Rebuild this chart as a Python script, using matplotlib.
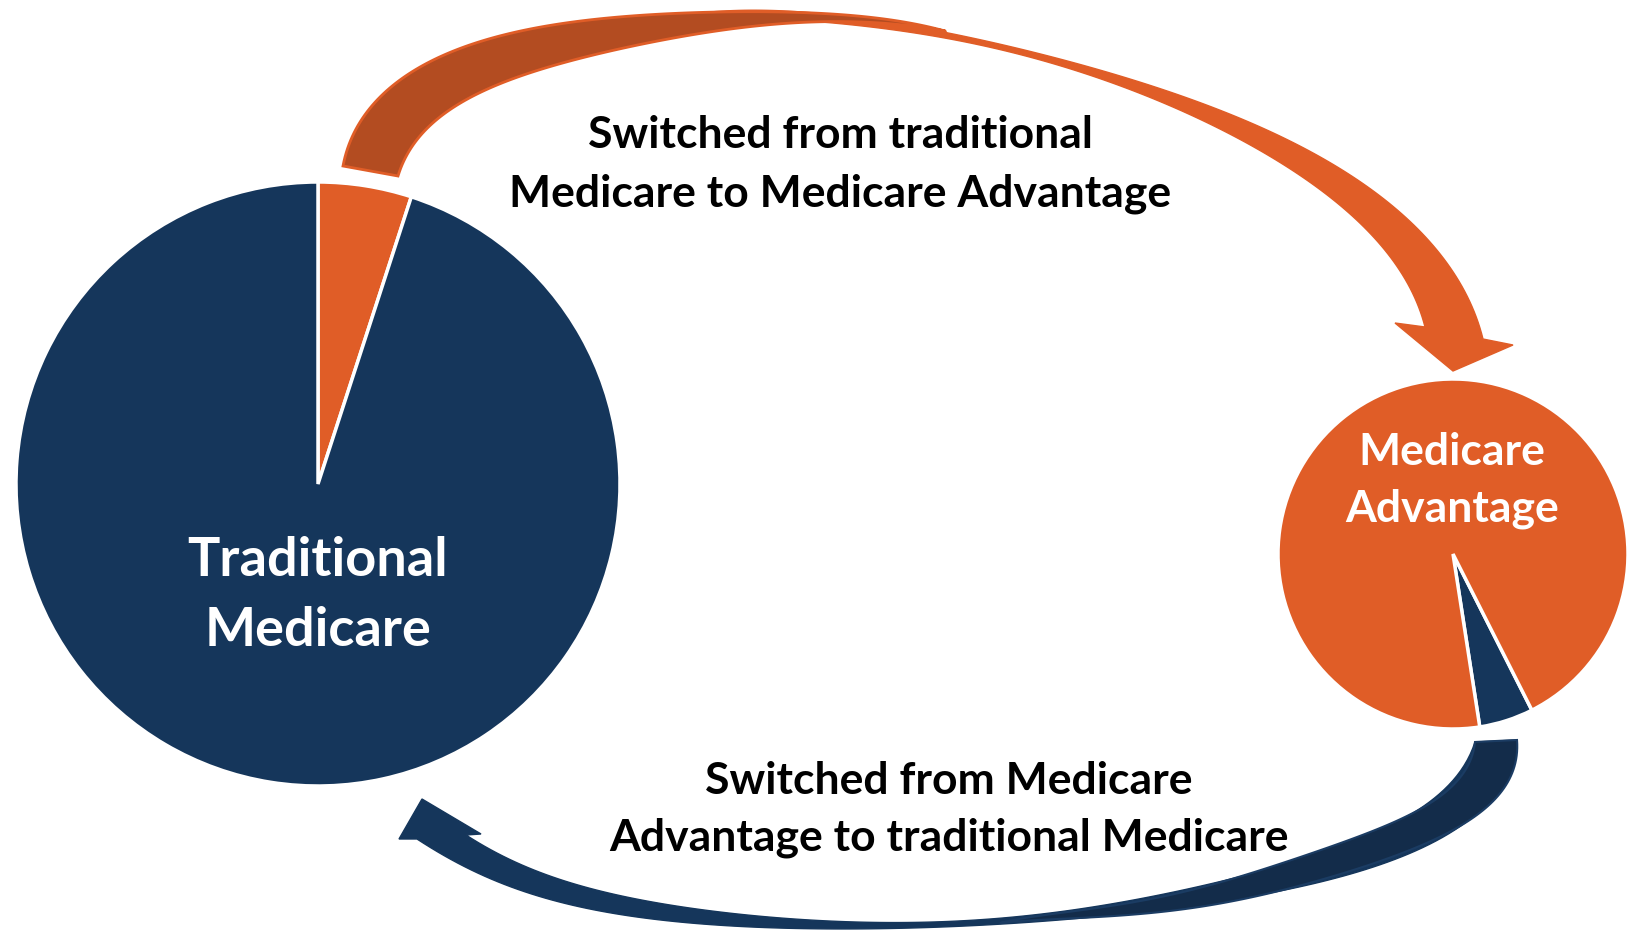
import numpy as np
import matplotlib
matplotlib.use("Agg")
import matplotlib.pyplot as plt
from matplotlib.patches import Polygon

# share of each group that switched coverage (percent)
tm_labels = ["Switched to Medicare Advantage", "Stayed in traditional Medicare"]
tm_shares = [5, 95]
ma_labels = ["Switched to traditional Medicare", "Stayed in Medicare Advantage"]
ma_shares = [5, 95]

NAVY = "#15365b"
NAVY_BACK = "#132c4a"
ORANGE = "#e05d27"
BROWN = "#b34c21"

W, H = 1634, 937
FONT = "Lato"


def smooth(pts, deg=5, n=160):
    """Least-squares polynomial curve through traced edge points (y down) -> y up."""
    P = np.array(pts, float)
    d = np.r_[0, np.cumsum(np.hypot(*np.diff(P, axis=0).T))]
    s = d / d[-1]
    w = np.ones(len(P))
    w[0] = w[-1] = 30
    cx = np.polyfit(s, P[:, 0], deg, w=w)
    cy = np.polyfit(s, P[:, 1], deg, w=w)
    t = np.linspace(0, 1, n)
    return np.column_stack([np.polyval(cx, t), H - np.polyval(cy, t)])


def flip(pts):
    a = np.array(pts, float)
    a[:, 1] = H - a[:, 1]
    return a


fig = plt.figure(figsize=(W / 100, H / 100), dpi=100)
ax = fig.add_axes([0, 0, 1, 1])

# pies
ax.pie(tm_shares, colors=[ORANGE, NAVY], startangle=90, counterclock=False,
       center=(318, H - 485), radius=302, frame=True,
       wedgeprops=dict(edgecolor="white", linewidth=2.5))
ax.pie(ma_shares, colors=[NAVY, ORANGE], startangle=-81.2, counterclock=True,
       center=(1453, H - 555), radius=175, frame=True,
       wedgeprops=dict(edgecolor="white", linewidth=2.5))
ax.set_xlim(0, W)
ax.set_ylim(0, H)
ax.set_aspect("equal")
ax.axis("off")

# top arrow: traditional -> MA (front face, then darker back face over it)
front_outer = [(700, 14), (780, 12), (880, 22), (980, 40), (1080, 66), (1150, 87),
               (1200, 103), (1250, 123), (1300, 147), (1350, 177), (1400, 213),
               (1433, 247), (1457, 277), (1473, 310), (1483, 340)]
front_inner = [(700, 16), (780, 20), (880, 29), (980, 46), (1080, 74), (1150, 97),
               (1250, 145), (1317, 190), (1367, 234), (1400, 268), (1420, 304), (1425, 328)]
head = flip([(1513, 346), (1453, 372), (1395, 324)])
poly = np.vstack([smooth(front_outer), head, smooth(front_inner)[::-1]])
ax.add_patch(Polygon(poly, closed=True, fc=ORANGE, ec=ORANGE, lw=1))

back_outer = [(343, 167), (355, 140), (367, 112), (387, 90), (410, 73), (450, 53),
              (500, 37), (567, 25), (633, 17), (717, 13), (800, 12), (880, 21), (945, 32)]
back_inner = [(398, 177), (407, 157), (417, 140), (433, 123), (450, 110), (483, 93),
              (533, 73), (583, 58), (633, 47), (717, 33), (800, 22), (880, 25), (945, 32)]
poly = np.vstack([smooth(back_outer), smooth(back_inner)[::-1]])
ax.add_patch(Polygon(poly, closed=True, fc=BROWN, ec=ORANGE, lw=2))

# bottom arrow: MA -> traditional
b_outer = [(1517, 741), (1517, 767), (1507, 787), (1483, 810), (1433, 840), (1367, 867),
           (1300, 887), (1233, 902), (1167, 912), (1100, 918), (1000, 924), (873, 929),
           (750, 927), (617, 917), (530, 895), (465, 866), (417, 840)]
b_inner = [(1475, 743), (1475, 760), (1463, 777), (1433, 800), (1400, 820), (1333, 847),
           (1267, 870), (1200, 888), (1133, 903), (1100, 909), (1000, 917), (873, 922),
           (750, 917), (640, 902), (545, 874), (492, 852), (466, 836)]
b_head = flip([(399, 840), (422, 800), (481, 835)])
poly = np.vstack([smooth(b_outer, deg=6), b_head, smooth(b_inner, deg=6)[::-1]])
ax.add_patch(Polygon(poly, closed=True, fc=NAVY, ec=NAVY, lw=1))

# darker back face near the start of the bottom arrow
back_b_outer = b_outer[:11]
back_b_inner = b_inner[:10] + [(1000, 924)]
poly = np.vstack([smooth(back_b_outer), smooth(back_b_inner)[::-1]])
ax.add_patch(Polygon(poly, closed=True, fc=NAVY_BACK, ec="#1b3c63", lw=1.5))

txt = dict(family=FONT, weight="bold", ha="center", va="center")
ax.text(318, H - 561, "Traditional", color="white", fontsize=39, **txt)
ax.text(318, H - 631, "Medicare", color="white", fontsize=39, **txt)
ax.text(1452, H - 452, "Medicare", color="white", fontsize=32, **txt)
ax.text(1452, H - 509, "Advantage", color="white", fontsize=32, **txt)
ax.text(840, H - 135, "Switched from traditional", color="black", fontsize=32, **txt)
ax.text(840, H - 194, "Medicare to Medicare Advantage", color="black", fontsize=32, **txt)
ax.text(949, H - 781, "Switched from Medicare", color="black", fontsize=32, **txt)
ax.text(949, H - 838, "Advantage to traditional Medicare", color="black", fontsize=32, **txt)

fig.savefig("out.png", dpi=100)
